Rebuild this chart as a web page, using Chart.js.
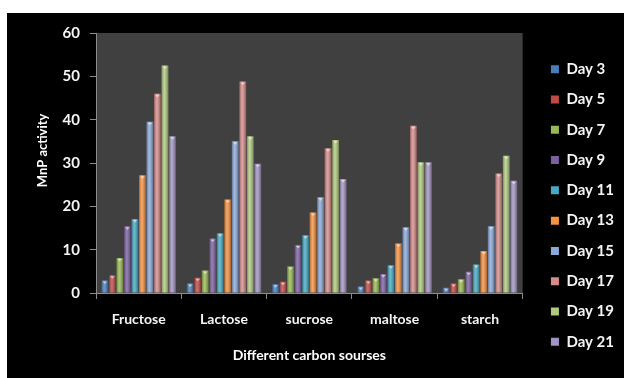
<!DOCTYPE html>
<html>
<head>
<meta charset="utf-8">
<script src="https://cdn.jsdelivr.net/npm/chart.js@4/dist/chart.umd.min.js"></script>
<style>
  body { margin: 0; background: #fff; }
  #wrap { position: absolute; left: 7px; top: 13px; width: 617px; height: 365px; background: #000; }
</style>
</head>
<body>
<div id="wrap"><canvas id="myChart" width="617" height="365"></canvas></div>
<script>
// categorie e valori
const categories = ['Fructose', 'Lactose', 'sucrose', 'maltose', 'starch'];
const dayLabels = ['Day 3', 'Day 5', 'Day 7', 'Day 9', 'Day 11', 'Day 13', 'Day 15', 'Day 17', 'Day 19', 'Day 21'];
const day3  = [2.9, 2.2, 2.0, 1.5, 1.2];
const day5  = [4.1, 3.5, 2.6, 2.9, 2.2];
const day7  = [8.1, 5.2, 6.1, 3.4, 3.2];
const day9  = [15.4, 12.6, 11.1, 4.4, 4.9];
const day11 = [17.1, 13.8, 13.3, 6.4, 6.6];
const day13 = [27.2, 21.6, 18.6, 11.4, 9.7];
const day15 = [39.5, 35.0, 22.1, 15.2, 15.4];
const day17 = [46.0, 48.8, 33.4, 38.6, 27.6];
const day19 = [52.5, 36.2, 35.3, 30.2, 31.7];
const day21 = [36.2, 29.8, 26.3, 30.2, 25.9];
const yTicks = [0, 10, 20, 30, 40, 50, 60];

const seriesValues = [day3, day5, day7, day9, day11, day13, day15, day17, day19, day21];
const colors = ['#4a7ebb', '#be4b48', '#98b954', '#7d60a0', '#46aac4', '#f69240', '#8ba9d9', '#d68c8a', '#b0ca7f', '#a393c2'];

const FONT = 'Lato, "Open Sans", sans-serif';

// sfondo grigio dell'area del grafico
const plotBg = {
  id: 'plotBg',
  beforeDraw(chart) {
    const {ctx, chartArea: a} = chart;
    ctx.save();
    ctx.fillStyle = '#404040';
    ctx.fillRect(a.left, a.top, a.right - a.left, a.bottom - a.top);
    ctx.restore();
  }
};

// effetto cilindro sulle barre
const barGloss = {
  id: 'barGloss',
  afterDatasetsDraw(chart) {
    const ctx = chart.ctx;
    chart.data.datasets.forEach((ds, i) => {
      chart.getDatasetMeta(i).data.forEach(bar => {
        const {x, y, base, width} = bar.getProps(['x', 'y', 'base', 'width'], true);
        const left = x - width / 2;
        const g = ctx.createLinearGradient(left, 0, left + width, 0);
        g.addColorStop(0, 'rgba(0,0,0,0.3)');
        g.addColorStop(0.4, 'rgba(255,255,255,0.2)');
        g.addColorStop(1, 'rgba(0,0,0,0.35)');
        ctx.save();
        ctx.fillStyle = g;
        ctx.fillRect(left, y, width, base - y);
        ctx.fillStyle = 'rgba(255,255,255,0.55)';
        ctx.beginPath();
        ctx.moveTo(left + 1, y + 1);
        ctx.lineTo(left + width - 1, y + 1);
        ctx.lineTo(x, y + 3.5);
        ctx.closePath();
        ctx.fill();
        ctx.restore();
      });
    });
  }
};

const datasets = dayLabels.map((label, i) => ({
  label: label,
  data: seriesValues[i],
  backgroundColor: colors[i],
  borderWidth: 0,
  barPercentage: 0.9,
  categoryPercentage: 0.88
}));

new Chart(document.getElementById('myChart'), {
  type: 'bar',
  data: { labels: categories, datasets: datasets },
  options: {
    responsive: false,
    animation: false,
    layout: { padding: { top: 20, right: 0, bottom: 0, left: 0 } },
    plugins: {
      legend: {
        position: 'right',
        labels: {
          color: '#f4f4f4',
          boxWidth: 8,
          boxHeight: 8,
          padding: 15.3,
          font: { family: FONT, size: 15, weight: 'bold' }
        }
      },
      tooltip: { enabled: false }
    },
    scales: {
      x: {
        grid: { display: true, drawOnChartArea: false, color: '#8c8c8c', tickLength: 6, offset: true },
        border: { color: '#8c8c8c' },
        ticks: { color: '#f4f4f4', padding: 12, font: { family: FONT, size: 14, weight: 'bold' } },
        title: {
          display: true,
          text: 'Different carbon sourses',
          color: '#fff',
          font: { family: FONT, size: 14, weight: 'bold' },
          padding: { top: 18, bottom: 14 }
        },
        afterFit(s) { s.height = 85; }
      },
      y: {
        min: 0,
        max: 60,
        afterBuildTicks(s) { s.ticks = yTicks.map(v => ({ value: v })); },
        grid: { display: true, drawOnChartArea: false, color: '#8c8c8c', tickLength: 6 },
        border: { color: '#8c8c8c' },
        ticks: { color: '#f4f4f4', padding: 10, font: { family: FONT, size: 15, weight: 'bold' } },
        title: {
          display: true,
          text: '        MnP activity',
          color: '#fff',
          font: { family: FONT, size: 13, weight: 'bold' },
          padding: { top: 28, bottom: 4 }
        },
        afterFit(s) { s.width = 89; }
      },
      y2: {
        position: 'right',
        display: true,
        grid: { display: false },
        border: { display: false },
        ticks: { display: false },
        afterFit(s) { s.width = 13; }
      }
    }
  },
  plugins: [plotBg, barGloss]
});
</script>
</body>
</html>
